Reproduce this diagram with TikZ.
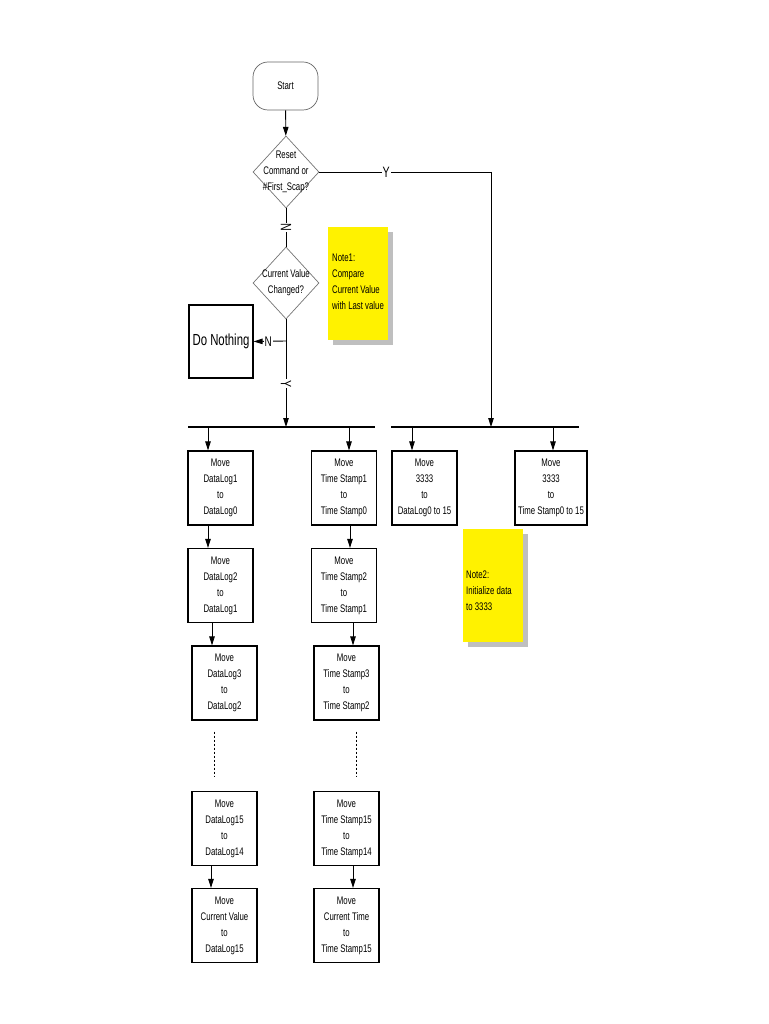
\documentclass[tikz,border=0pt]{standalone}
\usepackage{fontspec}
\setmainfont{Liberation Sans}[FakeStretch=0.71]
\usetikzlibrary{arrows.meta,shapes.geometric}
\begin{document}
\begin{tikzpicture}[x=1pt,y=-1pt,
  every node/.style={inner sep=0pt},
  txt/.style={font=\fontsize{11}{16}\selectfont},
  mbox/.style={draw=black,line width=1.2pt,minimum width=65pt,minimum height=74pt,align=center,font=\fontsize{11}{16}\selectfont},
  dia/.style={draw=black!55,line width=0.7pt,diamond,minimum width=66pt,minimum height=72pt},
  conn/.style={draw=black,line width=0.9pt},
  arr/.style={conn,-{Triangle[length=9pt,width=5.5pt]}},
  lab/.style={fill=white,inner sep=1pt,font=\fontsize{15}{15}\selectfont},
  notebox/.style={fill=yellow,minimum width=60pt,minimum height=113pt},
  shadowbox/.style={fill=black!25,minimum width=60pt,minimum height=113pt},
  bus/.style={draw=black,line width=1.3pt}
]
\useasboundingbox (0,0) rectangle (768,1024);

% start
\node[draw=black!60,line width=0.7pt,rounded corners=15pt,minimum width=65pt,minimum height=48pt,txt] (start) at (285.5,86) {Start};

% decisions
\node[dia] (d1) at (286,172) {};
\node[txt,align=center] (d1t) at (286,172) {Reset\\Command or\\\#First\_Scap?};
\node[dia] (d2) at (286,283) {};
\node[txt,align=center] (d2t) at (286,283) {Current Value\\Changed?};

% notes
\node[shadowbox] (n1s) at (363,288.5) {};
\node[notebox] (n1) at (358,283.5) {};
\node[txt,align=left,anchor=west] (n1t) at (332,282) {Note1:\\Compare\\Current Value\\with Last value};

\node[shadowbox] (n2s) at (497.5,590) {};
\node[notebox] (n2) at (492.5,585) {};
\node[txt,align=left,anchor=west] (n2t) at (466,591) {Note2:\\Initialize data\\to 3333};

% do nothing
\node[draw=black,line width=1.2pt,minimum width=64pt,minimum height=73pt,font=\fontsize{16}{16}\selectfont] (dn) at (221,341.5) {Do Nothing};

% buses
\coordinate (lbL) at (188,427);
\coordinate (lbR) at (375,427);
\coordinate (rbL) at (391,427);
\coordinate (rbR) at (579,427);
\draw[bus] (lbL) -- (lbR);
\draw[bus] (rbL) -- (rbR);
\coordinate (lbin) at (286,427);
\coordinate (rbin) at (491,427);
\coordinate (ycorner) at (491,172);
\coordinate (nj) at (286,341);

% boxes
\node[mbox] (b1) at (220.5,488) {Move\\DataLog1\\to\\DataLog0};
\node[mbox] (b2) at (220.5,585.5) {Move\\DataLog2\\to\\DataLog1};
\node[mbox] (b3) at (224.5,683) {Move\\DataLog3\\to\\DataLog2};
\node[mbox] (b15) at (224.5,828.5) {Move\\DataLog15\\to\\DataLog14};
\node[mbox] (b16) at (224.5,925.5) {Move\\Current Value\\to\\DataLog15};
\node[mbox] (t1) at (344,488) {Move\\Time Stamp1\\to\\Time Stamp0};
\node[mbox] (t2) at (344,585.5) {Move\\Time Stamp2\\to\\Time Stamp1};
\node[mbox] (t3) at (346.5,683) {Move\\Time Stamp3\\to\\Time Stamp2};
\node[mbox] (t15) at (346.5,828.5) {Move\\Time Stamp15\\to\\Time Stamp14};
\node[mbox] (t16) at (346.5,925.5) {Move\\Current Time\\to\\Time Stamp15};
\node[mbox] (r1) at (424.5,488) {Move\\3333\\to\\DataLog0 to 15};
\node[mbox,minimum width=72pt] (r2) at (551,488) {Move\\3333\\to\\Time Stamp0 to 15};

% connectors
\draw[arr] (start) -- (d1);
\draw[conn] (d1.east) -- node[lab,pos=0.39] {Y} (ycorner);
\draw[arr] (ycorner) -- (rbin);
\draw[conn] (d1.south) -- node[lab,rotate=-90] {N} (d2.north);
\draw[arr] (d2.south) -- node[lab,rotate=-90,pos=0.6] {Y} (lbin);
\draw[arr] (nj) -- node[lab,pos=0.55,font=\fontsize{14}{14}\selectfont] {N} (dn.east);

\coordinate (a1) at (208,427);
\coordinate (a2) at (349,427);
\coordinate (a3) at (412,427);
\coordinate (a4) at (553,427);
\draw[arr] (a1) -- (a1 |- b1.north);
\draw[arr] (a2) -- (a2 |- t1.north);
\draw[arr] (a3) -- (a3 |- r1.north);
\draw[arr] (a4) -- (a4 |- r2.north);

\draw[arr] ([xshift=-12.5pt]b1.south) -- ([xshift=-12.5pt]b1.south |- b2.north);
\draw[arr] ([xshift=-8.5pt]b2.south) -- ([xshift=-8.5pt]b2.south |- b3.north);
\draw[arr] ([xshift=-13.5pt]b15.south) -- ([xshift=-13.5pt]b15.south |- b16.north);
\draw[arr] ([xshift=6pt]t1.south) -- ([xshift=6pt]t1.south |- t2.north);
\draw[arr] ([xshift=9pt]t2.south) -- ([xshift=9pt]t2.south |- t3.north);
\draw[arr] ([xshift=6.5pt]t15.south) -- ([xshift=6.5pt]t15.south |- t16.north);

% ellipsis lines
\draw[line width=0.6pt,dash pattern=on 2pt off 2pt] ([shift={(-10.5,11)}]b3.south) -- ([shift={(-10.5,-15)}]b15.north);
\draw[line width=0.6pt,dash pattern=on 2pt off 2pt] ([shift={(9.5,11)}]t3.south) -- ([shift={(9.5,-15)}]t15.north);
\end{tikzpicture}
\end{document}
